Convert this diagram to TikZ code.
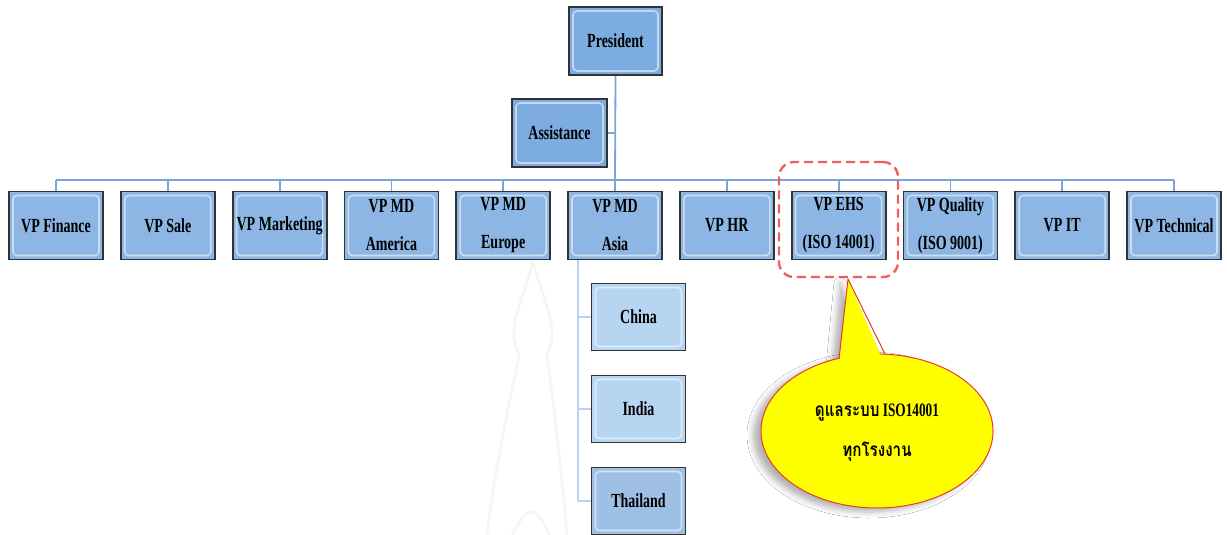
\documentclass[tikz,border=0pt]{standalone}
\usepackage{fontspec}
\setmainfont{Liberation Serif}[FakeStretch=0.7]
\newfontfamily\thaifont[Script=Thai,FakeStretch=0.8]{Loma}
\usetikzlibrary{shadows.blur}
\definecolor{boxblue}{RGB}{141,182,228}
\definecolor{topblue}{RGB}{124,172,224}
\definecolor{subblue}{RGB}{182,213,241}
\definecolor{thblue}{RGB}{158,192,229}
\definecolor{linkblue}{RGB}{118,166,220}
\definecolor{sublink}{RGB}{186,210,240}
\definecolor{hlred}{RGB}{240,95,95}
\definecolor{callred}{RGB}{232,60,40}
\definecolor{callyellow}{RGB}{255,255,0}
\tikzset{
  orgbox/.style={draw=black!80, line width=1.8pt, fill=boxblue,
    minimum width=94pt, minimum height=68pt, inner sep=0pt,
    font=\bfseries\fontsize{20}{23}\selectfont, align=center,
    path picture={\draw[white, opacity=0.55, line width=1.6pt, rounded corners=4pt]
      ([shift={(4pt,-4pt)}]path picture bounding box.north west) rectangle
      ([shift={(-4pt,4pt)}]path picture bounding box.south east);}},
  link/.style={draw=linkblue, line width=1.8pt},
  sublinkstyle/.style={draw=sublink, line width=1.8pt},
  twoline/.style={execute at begin node={\setlength{\baselineskip}{38pt}}},
  callshadow/.style={blur shadow={shadow xshift=-8pt, shadow yshift=-4pt,
      shadow blur radius=6pt, shadow opacity=30}},
}
\begin{document}
\begin{tikzpicture}[x=1pt,y=-1pt]
\useasboundingbox[fill=white] (0,0) rectangle (1227,535);
% faint watermark
\begin{scope}[draw=black!4, line width=2.5pt]
\draw (533,262) .. controls (522,300) and (512,320) .. (514,340) -- (519,356) .. controls (505,420) and (492,490) .. (487,535);
\draw (533,262) .. controls (544,300) and (554,320) .. (552,340) -- (547,356) .. controls (556,420) and (563,490) .. (567,535);
\draw (512,535) .. controls (520,520) and (525,512) .. (531,512) .. controls (537,512) and (542,520) .. (550,535);
\end{scope}
% nodes
\node[orgbox, fill=topblue, minimum width=93pt] (pres) at (615.5,41) {President};
\node[orgbox, fill=topblue, minimum width=95pt] (asst) at (559.5,133) {Assistance};
\coordinate (bus) at (615,180);
\node[orgbox] (v0) at (56,225.5) {VP Finance};
\node[orgbox] (v1) at (167.8,225.5) {VP Sale};
\node[orgbox] (v2) at (279.6,225.5) {VP Marketing};
\node[orgbox, twoline] (v3) at (391.4,225.5) {VP MD\\America};
\node[orgbox, twoline] (v4) at (503.2,225.5) {VP MD\\Europe};
\node[orgbox, twoline] (v5) at (615,225.5) {VP MD\\Asia};
\node[orgbox] (v6) at (726.8,225.5) {VP HR};
\node[orgbox, twoline] (v7) at (838.6,225.5) {VP EHS\\(ISO 14001)};
\node[orgbox, twoline] (v8) at (950.4,225.5) {VP Quality\\(ISO 9001)};
\node[orgbox] (v9) at (1062.2,225.5) {VP IT};
\node[orgbox] (v10) at (1174,225.5) {VP Technical};
\node[orgbox, fill=subblue, minimum height=67pt] (china) at (638.5,317) {China};
\node[orgbox, fill=subblue, minimum height=67pt] (india) at (638.5,409) {India};
\node[orgbox, fill=thblue, minimum height=67pt] (thai) at (638.5,501) {Thailand};
% connectors
\draw[link] (pres.south) -- (bus);
\draw[link] (asst.east) -- (asst.east -| bus);
\draw[link] (v0.north |- bus) -- (v10.north |- bus);
\foreach \i in {0,...,10} { \draw[link] (v\i.north |- bus) -- (v\i.north); }
\coordinate (trunk) at (578,259);
\draw[sublinkstyle] (v5.south -| trunk) -- (thai.west -| trunk);
\draw[sublinkstyle] (china.west -| trunk) -- (china.west);
\draw[sublinkstyle] (india.west -| trunk) -- (india.west);
\draw[sublinkstyle] (thai.west -| trunk) -- (thai.west);
% highlight around EHS
\node[draw=hlred, dashed, dash pattern=on 9pt off 5pt, line width=2.4pt, rounded corners=15pt,
      minimum width=119pt, minimum height=115pt] (hl) at (838.5,219.5) {};
% callout
\coordinate (tip) at (848,279);
\path[callshadow] (877,431) ellipse [x radius=116pt, y radius=77pt];
\path[callshadow] (tip) -- (840,362) -- (885,357) -- cycle;
\fill[callyellow] (877,431) ellipse [x radius=116pt, y radius=77pt];
\draw[callred, line width=1pt] (877,431) ellipse [x radius=116pt, y radius=77pt];
\fill[callyellow] (tip) -- (838,372) -- (886,368) -- cycle;
\draw[callred, line width=1pt] (839,359) -- (tip) -- (885,354);
\node[align=center, font=\bfseries\fontsize{19}{40}\selectfont] (note) at (877,433)
  {{\thaifont ดูแลระบบ} ISO14001\\{\thaifont ทุกโรงงาน}};
\end{tikzpicture}
\end{document}
